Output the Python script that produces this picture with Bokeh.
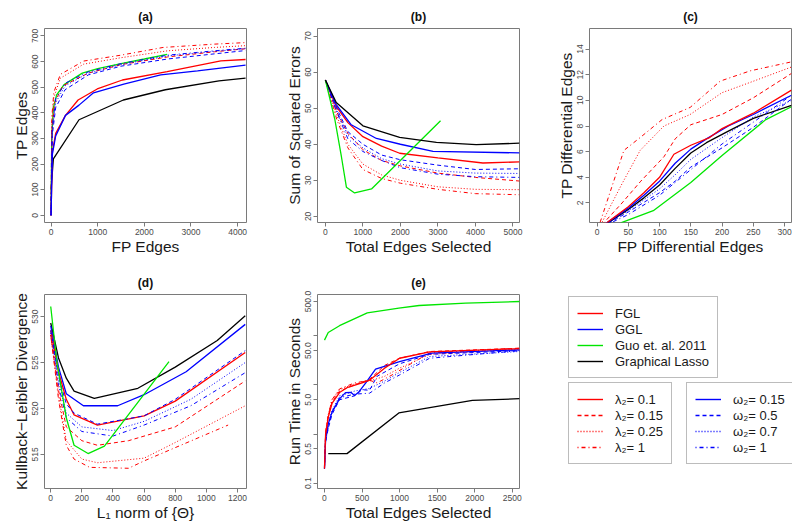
from bokeh.plotting import figure
from bokeh.layouts import column, row
from bokeh.models import Range1d, FixedTicker, Legend, LegendItem, Spacer
from bokeh.embed import file_html
from bokeh.resources import INLINE

FONT = "Liberation Sans"
RED = "#ff0000"
BLUE = "#0000ff"
GREEN = "#00e600"
BLACK = "#000000"

# ---------------- panel (a): TP edges vs FP edges ----------------
a_fgl1_x = [0, 30, 100, 310, 580, 990, 1530, 2490, 3640, 4170]
a_fgl1_y = [0, 250, 320, 390, 450, 493, 528, 561, 603, 608]
a_fgl2_x = [0, 20, 80, 250, 800, 1500, 2500, 3500, 4170]
a_fgl2_y = [0, 330, 440, 505, 555, 588, 618, 638, 650]
a_fgl3_x = [0, 15, 60, 200, 700, 1500, 2500, 3500, 4170]
a_fgl3_y = [0, 360, 460, 535, 590, 615, 642, 655, 662]
a_fgl4_x = [0, 15, 60, 200, 700, 1500, 2400, 3500, 4170]
a_fgl4_y = [0, 380, 480, 550, 602, 625, 655, 668, 674]
a_ggl1_x = [0, 30, 100, 310, 600, 910, 1560, 2350, 3140, 4170]
a_ggl1_y = [0, 240, 310, 390, 430, 478, 512, 548, 564, 586]
a_ggl2_x = [0, 25, 100, 300, 800, 1500, 2500, 3500, 4170]
a_ggl2_y = [0, 310, 420, 490, 548, 582, 610, 630, 643]
a_ggl3_x = [0, 25, 100, 300, 800, 1500, 2500, 3500, 4170]
a_ggl3_y = [0, 330, 440, 505, 555, 588, 622, 640, 650]
a_ggl4_x = [0, 25, 100, 300, 800, 1500, 2500, 3500, 4170]
a_ggl4_y = [0, 340, 455, 515, 560, 592, 625, 642, 652]
a_guo_x = [0, 15, 50, 120, 280, 670, 1000, 1500, 2000, 2490]
a_guo_y = [0, 300, 420, 470, 510, 555, 572, 592, 610, 628]
a_glasso_x = [0, 50, 600, 1550, 2450, 3600, 4170]
a_glasso_y = [100, 220, 373, 450, 490, 525, 535]

# ---------------- panel (b): SSE vs total edges ----------------
b_x6 = [0, 300, 600, 1000, 1500, 2000, 3000, 4000, 5175]
b_fgl1_x = [0, 290, 600, 1000, 1500, 1980, 3000, 4200, 5175]
b_fgl1_y = [57.8, 50.5, 46.0, 42.1, 39.5, 37.5, 36.2, 34.8, 35.1]
b_fgl2_y = [57.8, 49.0, 43.0, 38.5, 35.5, 34.0, 32.0, 30.8, 29.8]
b_fgl3_y = [57.8, 48.0, 40.0, 34.5, 31.5, 30.0, 28.2, 27.5, 27.4]
b_fgl4_y = [57.8, 47.0, 39.0, 33.0, 30.5, 29.2, 27.5, 26.3, 26.0]
b_ggl1_x = [0, 290, 690, 1360, 2000, 2870, 5175]
b_ggl1_y = [57.8, 51.0, 45.4, 41.6, 40.0, 38.0, 37.6]
b_ggl2_y = [57.8, 50.0, 43.5, 40.0, 37.0, 35.7, 34.2, 33.0, 33.2]
b_ggl3_y = [57.8, 49.5, 42.5, 39.0, 36.0, 34.5, 32.6, 32.0, 31.9]
b_ggl4_y = [57.8, 49.0, 41.5, 38.0, 35.5, 33.5, 31.7, 31.0, 30.8]
b_guo_x = [0, 250, 430, 560, 780, 1230, 3070]
b_guo_y = [57.8, 47.0, 36.4, 28.1, 26.5, 27.6, 46.5]
b_glasso_x = [0, 290, 1000, 1980, 2960, 4020, 5175]
b_glasso_y = [57.8, 51.6, 45.1, 41.9, 40.5, 39.9, 40.3]

# ---------------- panel (c): TP differential vs FP differential ----------------
c_fgl1_x = [14, 50, 75, 100, 123, 150, 180, 200, 250, 311]
c_fgl1_y = [0.4, 1.7, 2.8, 4.0, 5.8, 6.5, 7.1, 7.8, 9.0, 10.8]
c_fgl2_x = [8, 40, 70, 107, 125, 150, 200, 250, 311]
c_fgl2_y = [0.3, 2.0, 3.7, 5.6, 7.0, 8.1, 8.9, 10.2, 12.1]
c_fgl3_x = [6, 40, 69, 107, 149, 200, 245, 311]
c_fgl3_y = [0.3, 3.5, 6.1, 8.0, 8.9, 10.6, 11.4, 12.6]
c_fgl4_x = [3, 43, 69, 104, 149, 197, 245, 311]
c_fgl4_y = [0.2, 6.1, 7.1, 8.5, 9.45, 11.5, 12.3, 13.0]
c_ggl1_x = [14, 50, 75, 100, 125, 150, 175, 210, 250, 311]
c_ggl1_y = [0.4, 1.6, 2.6, 3.7, 5.1, 6.2, 7.0, 8.0, 8.9, 10.4]
c_ggl2_x = [18, 50, 100, 125, 150, 200, 250, 311]
c_ggl2_y = [0.4, 1.3, 2.8, 3.7, 4.8, 6.3, 7.9, 10.1]
c_ggl3_x = [16, 50, 100, 125, 150, 200, 250, 311]
c_ggl3_y = [0.4, 1.4, 3.1, 4.2, 5.4, 7.1, 8.7, 10.0]
c_ggl4_x = [20, 50, 100, 150, 200, 250, 311]
c_ggl4_y = [0.4, 1.1, 2.6, 4.6, 6.6, 8.3, 10.4]
c_guo_x = [38, 90, 150, 200, 270, 311]
c_guo_y = [0.45, 1.4, 3.6, 5.7, 8.5, 9.5]
c_glasso_x = [16, 50, 75, 100, 125, 150, 175, 210, 250, 311]
c_glasso_y = [0.4, 1.5, 2.4, 3.4, 4.7, 5.9, 6.7, 7.6, 8.6, 9.6]

# ---------------- panel (d): KL divergence vs L1 norm ----------------
d_fgl1_x = [0, 50, 100, 150, 300, 600, 800, 1250]
d_fgl1_y = [528.5, 524.0, 521.0, 519.3, 518.2, 519.2, 520.8, 526.1]
d_fgl2_x = [0, 50, 100, 200, 300, 500, 800, 1250]
d_fgl2_y = [528.0, 522.0, 518.0, 516.5, 516.0, 516.5, 518.0, 523.0]
d_fgl3_x = [0, 50, 100, 200, 300, 600, 800, 1250]
d_fgl3_y = [528.0, 521.5, 516.5, 514.5, 514.1, 514.6, 516.3, 520.3]
d_fgl4_x = [0, 50, 100, 150, 250, 500, 600, 1140]
d_fgl4_y = [528.0, 521.0, 516.0, 514.5, 513.6, 513.5, 514.3, 518.2]
d_ggl1_x = [0, 50, 100, 210, 430, 600, 870, 1250]
d_ggl1_y = [529.0, 524.5, 521.6, 520.3, 520.3, 521.5, 524.0, 529.15]
d_ggl2_x = [0, 50, 100, 150, 300, 600, 800, 1250]
d_ggl2_y = [528.5, 523.5, 520.5, 519.5, 518.3, 519.2, 521.0, 526.3]
d_ggl3_x = [0, 50, 100, 200, 400, 600, 900, 1250]
d_ggl3_y = [528.2, 523.0, 519.5, 518.0, 517.6, 518.6, 521.0, 525.0]
d_ggl4_x = [0, 50, 100, 200, 400, 600, 900, 1250]
d_ggl4_y = [528.0, 522.5, 519.0, 517.5, 517.0, 518.2, 520.3, 523.9]
d_guo_x = [0, 40, 100, 150, 240, 345, 760]
d_guo_y = [531.1, 525.0, 519.0, 516.0, 515.1, 515.9, 525.1]
d_glasso_x = [0, 50, 100, 150, 280, 560, 800, 1070, 1250]
d_glasso_y = [529.3, 525.5, 523.3, 521.9, 521.1, 522.2, 524.5, 527.4, 530.1]

# ---------------- panel (e): run time vs total edges ----------------
e_fgl1_x = [0, 15, 50, 100, 200, 300, 500, 600, 800, 1000, 1400, 2600]
e_fgl1_y = [0.2, 1.0, 2.2, 4.2, 7.0, 8.8, 11.0, 12.5, 22.0, 35.0, 47.0, 55.0]
e_fgl2_x = [0, 15, 50, 100, 200, 400, 600, 800, 1000, 1400, 2600]
e_fgl2_y = [0.2, 1.0, 2.3, 4.5, 7.5, 10.0, 13.0, 25.0, 35.0, 48.0, 56.0]
e_fgl3_x = [0, 15, 50, 100, 200, 400, 600, 800, 1000, 1400, 2600]
e_fgl3_y = [0.2, 1.1, 2.5, 5.0, 8.0, 10.5, 12.0, 15.0, 22.0, 42.0, 54.0]
e_fgl4_x = [0, 15, 50, 100, 200, 400, 600, 700, 900, 1200, 1400, 2600]
e_fgl4_y = [0.2, 1.1, 2.4, 5.0, 8.3, 11.0, 12.5, 11.0, 16.0, 30.0, 45.0, 56.0]
e_ggl1_x = [0, 15, 50, 100, 200, 280, 350, 400, 450, 550, 680, 1000, 1430, 2600]
e_ggl1_y = [0.2, 0.8, 1.6, 2.8, 5.2, 7.0, 7.1, 6.1, 7.0, 11.0, 21.0, 30.0, 44.5, 52.0]
e_ggl2_x = [0, 15, 50, 100, 200, 400, 500, 600, 700, 1000, 1400, 2600]
e_ggl2_y = [0.2, 0.7, 1.3, 2.5, 5.0, 6.0, 8.0, 7.8, 15.0, 27.0, 42.0, 50.0]
e_ggl3_x = [0, 15, 50, 100, 200, 400, 600, 800, 1000, 1400, 2600]
e_ggl3_y = [0.2, 0.8, 1.6, 3.0, 6.0, 7.5, 8.5, 12.0, 18.0, 38.0, 48.0]
e_ggl4_x = [0, 15, 50, 100, 200, 400, 600, 800, 1000, 1400, 2600]
e_ggl4_y = [0.2, 0.7, 1.4, 2.8, 5.5, 6.5, 6.8, 11.0, 16.0, 35.0, 50.0]
e_guo_x = [0, 50, 200, 570, 990, 1260, 1880, 2600]
e_guo_y = [82, 117, 161, 294, 366, 415, 463, 500]
e_glasso_x = [50, 300, 990, 1970, 2600]
e_glasso_y = [0.4, 0.4, 2.7, 4.85, 5.25]

# ---------------- tick positions and labels ----------------
a_xticks = [0, 1000, 2000, 3000, 4000]
a_yticks = [0, 100, 200, 300, 400, 500, 600, 700]
b_xticks = [0, 1000, 2000, 3000, 4000, 5000]
b_yticks = [20, 30, 40, 50, 60, 70]
c_xticks = [0, 50, 100, 150, 200, 250, 300]
c_yticks = [2, 4, 6, 8, 10, 12, 14]
d_xticks = [0, 200, 400, 600, 800, 1000, 1200]
d_yticks = [515, 520, 525, 530]
e_xticks = [0, 500, 1000, 1500, 2000, 2500]
e_yticks = [0.1, 0.5, 1.0, 5.0, 10.0, 50.0, 100.0, 500.0]
e_ylabels = ["0.1", "0.5", "", "5.0", "", "50.0", "", "500.0"]

legend1_labels = ["FGL", "GGL", "Guo et. al. 2011", "Graphical Lasso"]
legend2_labels = ["λ₂= 0.1", "λ₂= 0.15", "λ₂= 0.25", "λ₂= 1"]
legend3_labels = ["ω₂= 0.15", "ω₂= 0.5", "ω₂= 0.7", "ω₂= 1"]

STYLE = {
    "fgl1": (RED, "solid", 1.3),
    "fgl2": (RED, "4 3", 1.0),
    "fgl3": (RED, "1 2", 1.0),
    "fgl4": (RED, "1 3 4 3", 1.0),
    "ggl1": (BLUE, "solid", 1.3),
    "ggl2": (BLUE, "4 3", 1.0),
    "ggl3": (BLUE, "1 2", 1.0),
    "ggl4": (BLUE, "1 3 4 3", 1.0),
    "guo": (GREEN, "solid", 1.3),
    "glasso": (BLACK, "solid", 1.3),
}

FRAME_W = 202
FRAME_H = 194


def make_panel(title, xr, yr, xticks, yticks, xlabel, ylabel, bl, br, bt, bb,
               ylog=False, ylabels=None):
    p = figure(frame_width=FRAME_W, frame_height=FRAME_H,
               x_range=Range1d(*xr), y_range=Range1d(*yr),
               y_axis_type="log" if ylog else "linear",
               output_backend="svg", toolbar_location=None, title=title,
               min_border_left=bl, min_border_right=br,
               min_border_top=bt, min_border_bottom=bb)
    p.title.align = "center"
    p.title.text_font = FONT
    p.title.text_font_size = "12px"
    p.title.text_font_style = "bold"
    p.title.text_color = "#111111"
    p.title.standoff = 10
    p.grid.visible = False
    p.outline_line_color = "#7a7a7a"
    p.outline_line_width = 1
    p.background_fill_color = "white"
    p.border_fill_color = "white"
    p.xaxis.ticker = FixedTicker(ticks=xticks)
    p.yaxis.ticker = FixedTicker(ticks=yticks)
    if ylabels is not None:
        p.yaxis.major_label_overrides = {t: s for t, s in zip(yticks, ylabels)}
    for ax in p.axis:
        ax.axis_line_color = None
        ax.major_tick_line_color = "#7a7a7a"
        ax.major_tick_out = 4
        ax.major_tick_in = 0
        ax.minor_tick_line_color = None
        ax.major_label_text_font = FONT
        ax.major_label_text_font_size = "8.5px"
        ax.major_label_text_color = "#4a4a4a"
        ax.major_label_standoff = 2
        ax.axis_label_text_font = FONT
        ax.axis_label_text_font_size = "15.5px"
        ax.axis_label_text_font_style = "normal"
        ax.axis_label_text_color = "#1a1a1a"
        ax.axis_label_standoff = 0
    p.xaxis.axis_label = xlabel
    p.yaxis.axis_label = ylabel
    p.yaxis.major_label_orientation = "vertical"
    return p


def draw(p, key, xs, ys):
    color, dash, width = STYLE[key]
    p.line(xs, ys, line_color=color, line_dash=dash, line_width=width)


# panel (a)
pa = make_panel("(a)", (-140, 4190), (-28, 729), a_xticks, a_yticks,
                "FP Edges", "TP Edges", 44, 29, 28, 40)
draw(pa, "glasso", a_glasso_x, a_glasso_y)
draw(pa, "guo", a_guo_x, a_guo_y)
draw(pa, "fgl1", a_fgl1_x, a_fgl1_y)
draw(pa, "fgl2", a_fgl2_x, a_fgl2_y)
draw(pa, "fgl3", a_fgl3_x, a_fgl3_y)
draw(pa, "fgl4", a_fgl4_x, a_fgl4_y)
draw(pa, "ggl1", a_ggl1_x, a_ggl1_y)
draw(pa, "ggl2", a_ggl2_x, a_ggl2_y)
draw(pa, "ggl3", a_ggl3_x, a_ggl3_y)
draw(pa, "ggl4", a_ggl4_x, a_ggl4_y)

# panel (b)
pb = make_panel("(b)", (-210, 5175), (18.3, 72.1), b_xticks, b_yticks,
                "Total Edges Selected", "Sum of Squared Errors", 42, 26, 28, 40)
draw(pb, "fgl1", b_fgl1_x, b_fgl1_y)
draw(pb, "fgl2", b_x6, b_fgl2_y)
draw(pb, "fgl3", b_x6, b_fgl3_y)
draw(pb, "fgl4", b_x6, b_fgl4_y)
draw(pb, "ggl1", b_ggl1_x, b_ggl1_y)
draw(pb, "ggl2", b_x6, b_ggl2_y)
draw(pb, "ggl3", b_x6, b_ggl3_y)
draw(pb, "ggl4", b_x6, b_ggl4_y)
draw(pb, "guo", b_guo_x, b_guo_y)
draw(pb, "glasso", b_glasso_x, b_glasso_y)

# panel (c)
pc = make_panel("(c)", (-12, 311), (0.48, 15.6), c_xticks, c_yticks,
                "FP Differential Edges", "TP Differential Edges", 44, 1, 28, 40)
draw(pc, "guo", c_guo_x, c_guo_y)
draw(pc, "glasso", c_glasso_x, c_glasso_y)
draw(pc, "ggl2", c_ggl2_x, c_ggl2_y)
draw(pc, "ggl3", c_ggl3_x, c_ggl3_y)
draw(pc, "ggl4", c_ggl4_x, c_ggl4_y)
draw(pc, "ggl1", c_ggl1_x, c_ggl1_y)
draw(pc, "fgl1", c_fgl1_x, c_fgl1_y)
draw(pc, "fgl2", c_fgl2_x, c_fgl2_y)
draw(pc, "fgl3", c_fgl3_x, c_fgl3_y)
draw(pc, "fgl4", c_fgl4_x, c_fgl4_y)

# panel (d)
pd = make_panel("(d)", (-40, 1258), (511.3, 532.4), d_xticks, d_yticks,
                "L₁ norm of {Θ}", "Kullback−Leibler Divergence", 44, 29, 32, 34)
draw(pd, "glasso", d_glasso_x, d_glasso_y)
draw(pd, "ggl1", d_ggl1_x, d_ggl1_y)
draw(pd, "fgl1", d_fgl1_x, d_fgl1_y)
draw(pd, "ggl2", d_ggl2_x, d_ggl2_y)
draw(pd, "ggl3", d_ggl3_x, d_ggl3_y)
draw(pd, "ggl4", d_ggl4_x, d_ggl4_y)
draw(pd, "fgl2", d_fgl2_x, d_fgl2_y)
draw(pd, "fgl3", d_fgl3_x, d_fgl3_y)
draw(pd, "fgl4", d_fgl4_x, d_fgl4_y)
draw(pd, "guo", d_guo_x, d_guo_y)

# panel (e)
pe = make_panel("(e)", (-93, 2597), (0.078, 695), e_xticks, e_yticks,
                "Total Edges Selected", "Run Time in Seconds", 42, 26, 32, 34,
                ylog=True, ylabels=e_ylabels)
draw(pe, "guo", e_guo_x, e_guo_y)
draw(pe, "glasso", e_glasso_x, e_glasso_y)
draw(pe, "ggl2", e_ggl2_x, e_ggl2_y)
draw(pe, "ggl3", e_ggl3_x, e_ggl3_y)
draw(pe, "ggl4", e_ggl4_x, e_ggl4_y)
draw(pe, "fgl2", e_fgl2_x, e_fgl2_y)
draw(pe, "fgl3", e_fgl3_x, e_fgl3_y)
draw(pe, "fgl4", e_fgl4_x, e_fgl4_y)
draw(pe, "ggl1", e_ggl1_x, e_ggl1_y)
draw(pe, "fgl1", e_fgl1_x, e_fgl1_y)


# legend boxes: each one in its own small figure, pinned to its top-left corner
def legend_fig(labels, keys, w, h):
    f = figure(width=w, height=h, x_range=Range1d(0, 1), y_range=Range1d(0, 1),
               x_axis_location=None, y_axis_location=None,
               output_backend="svg", toolbar_location=None, min_border=0)
    f.grid.visible = False
    f.outline_line_color = None
    f.background_fill_color = "white"
    f.border_fill_color = "white"
    items = []
    for lab, key in zip(labels, keys):
        color, dash, width = STYLE[key]
        # key renderer lies outside the visible range: only its legend glyph shows
        r = f.line(x=[5, 6], y=[5, 6], line_color=color, line_dash=dash,
                   line_width=max(width, 1.4), line_alpha=1.0)
        items.append(LegendItem(label=lab, renderers=[r]))
    lg = Legend(items=items, location="top_left", orientation="vertical",
                padding=8, spacing=0, margin=0,
                glyph_width=26, glyph_height=16, label_height=16,
                label_standoff=12, label_text_font=FONT,
                label_text_font_size="13px", label_text_color="#1a1a1a",
                border_line_color="#7a7a7a", border_line_width=1,
                background_fill_color="white", background_fill_alpha=1.0)
    f.add_layout(lg)
    return f


fl1 = legend_fig(legend1_labels, ["fgl1", "ggl1", "guo", "glasso"], 165, 86)
fl2 = legend_fig(legend2_labels, ["fgl1", "fgl2", "fgl3", "fgl4"], 118, 90)
fl3 = legend_fig(legend3_labels, ["ggl1", "ggl2", "ggl3", "ggl4"], 106, 90)

legend_area = column(
    Spacer(width=247, height=34),
    row(Spacer(width=23, height=86), fl1, Spacer(width=59, height=86)),
    row(Spacer(width=23, height=90), fl2, fl3),
    Spacer(width=247, height=50),
)

layout = column(row(pa, pb, pc), row(pd, pe, legend_area))

open("out.html", "w").write(file_html(layout, INLINE))
